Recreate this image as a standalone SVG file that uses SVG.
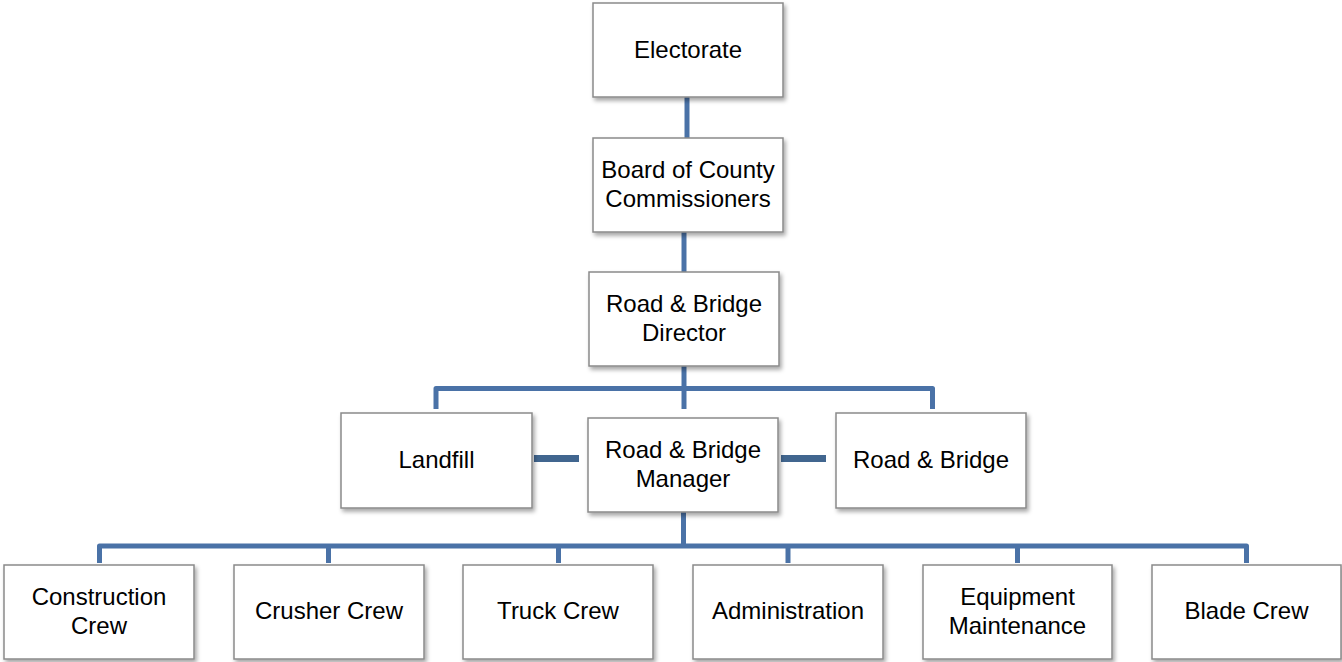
<svg xmlns="http://www.w3.org/2000/svg" width="1342" height="662" viewBox="0 0 1342 662">
<style>
.box{fill:#ffffff;stroke:#8a8a8a;stroke-width:1.5;filter:url(#sh)}
.t{font-family:"Liberation Sans",Arial,sans-serif;font-size:24px;fill:#000000;text-anchor:middle}
.c{fill:none;stroke:#4a72a7;stroke-width:5;stroke-linejoin:round}
.cw{fill:none;stroke:#41668f;stroke-width:7}
</style>
<defs>
<filter id="sh" x="-10%" y="-10%" width="125%" height="130%">
<feDropShadow dx="2" dy="3" stdDeviation="2" flood-color="#000000" flood-opacity="0.35"/>
</filter>
</defs>
<g id="connectors">
<line class="c" x1="687" y1="97" x2="687" y2="138"/>
<line class="c" x1="684" y1="232" x2="684" y2="272"/>
<line class="c" x1="684" y1="366" x2="684" y2="409"/>
<path class="c" d="M436,409 V388.5 H932.5 V409"/>
<line class="cw" x1="534" y1="458.5" x2="579" y2="458.5"/>
<line class="cw" x1="781" y1="458.5" x2="826" y2="458.5"/>
<line class="c" x1="683.5" y1="512" x2="683.5" y2="546"/>
<path class="c" d="M99.5,563 V546 H1246.5 V563"/>
<line class="c" x1="328.5" y1="546" x2="328.5" y2="563"/>
<line class="c" x1="558.5" y1="546" x2="558.5" y2="563"/>
<line class="c" x1="788" y1="546" x2="788" y2="563"/>
<line class="c" x1="1017.5" y1="546" x2="1017.5" y2="563"/>
</g>
<g id="electorate"><rect class="box" x="593" y="3" width="190" height="94"/><text class="t" x="688" y="58">Electorate</text></g>
<g id="board"><rect class="box" x="593" y="138" width="190" height="94"/><text class="t" x="688" y="177.5">Board of County</text><text class="t" x="688" y="206.5">Commissioners</text></g>
<g id="director"><rect class="box" x="589" y="272" width="190" height="94"/><text class="t" x="684" y="311.5">Road &amp; Bridge</text><text class="t" x="684" y="340.5">Director</text></g>
<g id="landfill"><rect class="box" x="341" y="413" width="191" height="95"/><text class="t" x="436.5" y="468">Landfill</text></g>
<g id="manager"><rect class="box" x="588" y="418" width="190" height="94"/><text class="t" x="683" y="457.5">Road &amp; Bridge</text><text class="t" x="683" y="486.5">Manager</text></g>
<g id="roadbridge"><rect class="box" x="836" y="413" width="190" height="95"/><text class="t" x="931" y="468">Road &amp; Bridge</text></g>
<g id="construction"><rect class="box" x="4" y="565" width="190" height="94"/><text class="t" x="99" y="605">Construction</text><text class="t" x="99" y="634">Crew</text></g>
<g id="crusher"><rect class="box" x="234" y="565" width="190" height="94"/><text class="t" x="329" y="619">Crusher Crew</text></g>
<g id="truck"><rect class="box" x="463" y="565" width="190" height="94"/><text class="t" x="558" y="619">Truck Crew</text></g>
<g id="administration"><rect class="box" x="693" y="565" width="190" height="94"/><text class="t" x="788" y="619">Administration</text></g>
<g id="equipment"><rect class="box" x="923" y="565" width="189" height="94"/><text class="t" x="1017.5" y="605">Equipment</text><text class="t" x="1017.5" y="634">Maintenance</text></g>
<g id="blade"><rect class="box" x="1152" y="565" width="189" height="94"/><text class="t" x="1246.5" y="619">Blade Crew</text></g>
</svg>
